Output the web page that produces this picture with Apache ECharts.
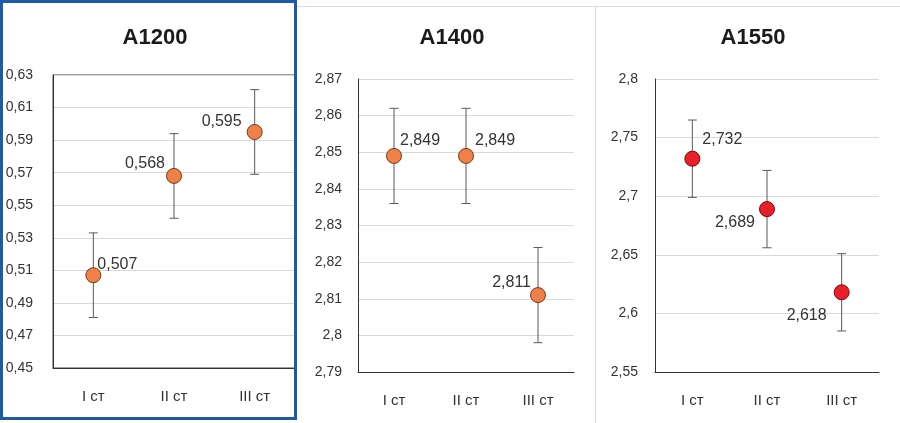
<!DOCTYPE html>
<html>
<head>
<meta charset="utf-8">
<title>A1200 / A1400 / A1550</title>
<script src="https://cdn.jsdelivr.net/npm/echarts@6/dist/echarts.min.js"></script>
<style>
  html, body { margin: 0; padding: 0; background: #fff; }
  #chart { width: 900px; height: 423px; }
</style>
</head>
<body>
<div id="chart"></div>
<script>
// data
var categories = ['I ст', 'II ст', 'III ст'];
var titles = ['A1200', 'A1400', 'A1550'];

var valuesA1200 = [0.507, 0.568, 0.595];
var errA1200 = [0.026, 0.026, 0.026];

var valuesA1400 = [2.849, 2.849, 2.811];
var errA1400 = [0.013, 0.013, 0.013];

var valuesA1550 = [2.732, 2.689, 2.618];
var errA1550 = [0.033, 0.033, 0.033];

var yMin = [0.45, 2.79, 2.55];
var yMax = [0.63, 2.87, 2.8];
var yStep = [0.02, 0.01, 0.05];

// layout / style
var grids = [
    { left: 53, top: 75, width: 242, height: 293 },
    { left: 358, top: 79, width: 216, height: 293 },
    { left: 655, top: 79, width: 224, height: 293 }
];
var titleX = [150, 447, 748];
var labelMargin = [20, 16, 17];
var markerColor = ['#F0804A', '#F0804A', '#E8202A'];
var markerBorder = ['#7A3A10', '#7A3A10', '#8B0000'];
// label placement relative to the marker centre: [align, dx, dy]
var labelPlace = [
    [['left', 4, -11], ['right', -9, -12], ['right', -13, -10]],
    [['left', 6, -15], ['left', 9, -15], ['right', -7, -12]],
    [['left', 10, -19], ['right', -12, 14], ['right', -15, 23]]
];

var allValues = [valuesA1200, valuesA1400, valuesA1550];
var allErr = [errA1200, errA1400, errA1550];

var font = 'Liberation Sans, Arial, sans-serif';
var textColor = '#333';

function comma(v) {
    return String(+(+v).toFixed(3)).replace('.', ',');
}

var myChart = echarts.init(document.getElementById('chart'));

var option = {
    backgroundColor: '#fff',
    animation: false,
    title: titles.map(function (t, i) {
        return {
            text: t,
            left: titleX[i],
            top: 22,
            textAlign: 'center',
            textStyle: { fontFamily: font, fontSize: 22, fontWeight: 'bold', color: '#1a1a1a' }
        };
    }),
    graphic: [
        { type: 'line', shape: { x1: 297, y1: 6.5, x2: 900, y2: 6.5 },
          style: { stroke: '#d9d9d9', lineWidth: 1 }, z: -1 },
        { type: 'line', shape: { x1: 595.5, y1: 6, x2: 595.5, y2: 423 },
          style: { stroke: '#d9d9d9', lineWidth: 1 }, z: -1 },
        { type: 'rect', shape: { x: 1.5, y: 1.5, width: 294, height: 417 },
          style: { fill: 'none', stroke: '#1F5AA6', lineWidth: 3 }, z: 100 }
    ],
    grid: grids.map(function (g, i) {
        return {
            left: g.left, top: g.top, width: g.width, height: g.height,
            show: i === 0,
            borderColor: '#404040',
            borderWidth: 1
        };
    }),
    xAxis: grids.map(function (g, i) {
        return {
            type: 'category',
            gridIndex: i,
            data: categories,
            axisTick: { show: false },
            axisLine: { lineStyle: { color: '#333' } },
            axisLabel: { margin: 21, fontFamily: font, fontSize: 15, color: textColor },
            splitLine: { show: false }
        };
    }),
    yAxis: grids.map(function (g, i) {
        return {
            type: 'value',
            gridIndex: i,
            min: yMin[i],
            max: yMax[i],
            interval: yStep[i],
            axisLine: { show: true, lineStyle: { color: '#333' } },
            axisTick: { show: false },
            axisLabel: {
                margin: labelMargin[i], fontFamily: font, fontSize: 14, color: textColor,
                formatter: comma
            },
            splitLine: { lineStyle: { color: '#d9d9d9' } }
        };
    }),
    series: []
};

allValues.forEach(function (vals, i) {
    var errs = allErr[i];
    // error bars
    option.series.push({
        type: 'custom',
        xAxisIndex: i,
        yAxisIndex: i,
        z: 2,
        encode: { x: 0, y: [1, 2] },
        data: vals.map(function (v, k) {
            return [k, v - errs[k], v + errs[k]];
        }),
        renderItem: function (params, api) {
            var hi = api.coord([api.value(0), api.value(2)]);
            var lo = api.coord([api.value(0), api.value(1)]);
            var cap = 4.5;
            var st = { stroke: '#595959', lineWidth: 1 };
            return {
                type: 'group',
                children: [
                    { type: 'line', shape: { x1: hi[0], y1: hi[1], x2: lo[0], y2: lo[1] }, style: st },
                    { type: 'line', shape: { x1: hi[0] - cap, y1: hi[1], x2: hi[0] + cap, y2: hi[1] }, style: st },
                    { type: 'line', shape: { x1: lo[0] - cap, y1: lo[1], x2: lo[0] + cap, y2: lo[1] }, style: st }
                ]
            };
        }
    });
    // points with value labels
    option.series.push({
        type: 'scatter',
        xAxisIndex: i,
        yAxisIndex: i,
        z: 3,
        symbolSize: 15,
        itemStyle: { color: markerColor[i], borderColor: markerBorder[i], borderWidth: 1, opacity: 1 },
        data: vals.map(function (v, k) {
            var p = labelPlace[i][k];
            return {
                value: [k, v],
                label: {
                    show: true,
                    position: 'inside',
                    align: p[0],
                    verticalAlign: 'middle',
                    offset: [p[1], p[2]],
                    formatter: function () { return comma(v); },
                    fontFamily: font,
                    fontSize: 16,
                    color: textColor
                }
            };
        })
    });
});

myChart.setOption(option);
</script>
</body>
</html>
